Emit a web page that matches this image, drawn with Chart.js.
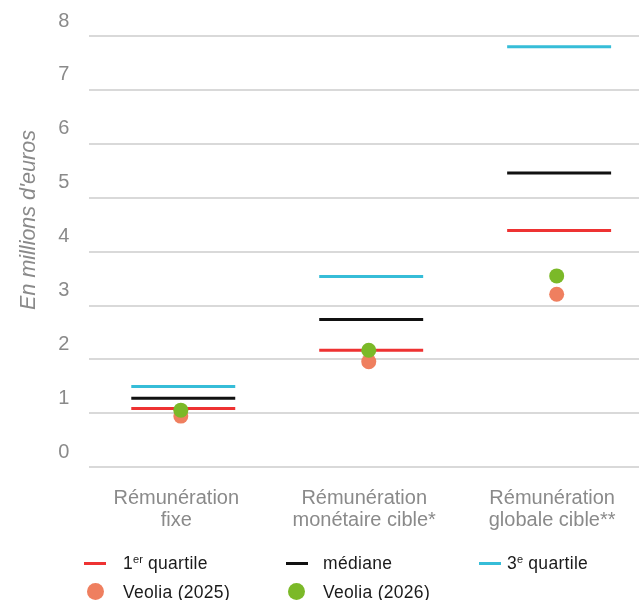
<!DOCTYPE html>
<html>
<head>
<meta charset="utf-8">
<script src="https://cdn.jsdelivr.net/npm/chart.js@4/dist/chart.umd.min.js"></script>
<style>
  html, body { margin: 0; padding: 0; background: #fff; }
  #wrap { position: relative; width: 643px; height: 600px; }
  #legend { position: absolute; left: 0; top: 0; width: 643px; height: 600px; pointer-events: none;
            font-family: "Liberation Sans", Arial, sans-serif; font-size: 17.5px; letter-spacing: 0.3px; color: #1a1a1a; }
  .lg-line { position: absolute; width: 22px; height: 3px; }
  .lg-dot { position: absolute; width: 17px; height: 17px; border-radius: 50%; }
  .lg-text { position: absolute; white-space: nowrap; line-height: 20px; }
  .lg-text sup { font-size: 11px; vertical-align: 0; position: relative; top: -6px; letter-spacing: 0; }
</style>
</head>
<body>
<div id="wrap">
  <canvas id="c" width="643" height="600"></canvas>
  <div id="legend"></div>
</div>
<script>
// ---- Data ----
const categories = [
  ["Rémunération", "fixe"],
  ["Rémunération", "monétaire cible*"],
  ["Rémunération", "globale cible**"]
];
const quartile1 = [1.09, 2.17, 4.39];
const mediane   = [1.28, 2.74, 5.46];
const quartile3 = [1.50, 3.54, 7.80];
const veolia2025 = [0.95, 1.96, 3.21];
const veolia2026 = [1.06, 2.17, 3.55];
const yTicks = [0, 1, 2, 3, 4, 5, 6, 7, 8];
const yTitle = "En millions d'euros";

// ---- Styles ----
const COL = { q1: '#ee3232', med: '#111111', q3: '#36bdd8', v25: '#ef7f5f', v26: '#7bb928' };
const FONT = '"Liberation Sans", Arial, sans-serif';
const HALF = 0.2766;   // half width of quartile segments (category units)
const DOT_SHIFT = -0.013;

function segments(vals) {
  const out = [];
  vals.forEach((v, i) => {
    out.push({ x: i - HALF, y: v }, { x: i + HALF, y: v }, { x: i + 0.5, y: null });
  });
  return out;
}
function dots(vals) { return vals.map((v, i) => ({ x: i + DOT_SHIFT, y: v })); }

const lineDs = (label, vals, color) => ({
  type: 'line', label, data: segments(vals), borderColor: color, backgroundColor: color,
  borderWidth: 3, pointRadius: 0, spanGaps: false, borderCapStyle: 'butt', order: 3, tension: 0
});

const titlePlugin = {
  id: 'ytitle',
  afterDraw(chart) {
    const ctx = chart.ctx;
    ctx.save();
    ctx.translate(29, 220);
    ctx.rotate(-Math.PI / 2);
    ctx.font = 'italic 21.5px ' + FONT;
    ctx.fillStyle = '#8a8a8a';
    ctx.textAlign = 'center';
    ctx.textBaseline = 'middle';
    ctx.fillText(yTitle, 0, 0);
    ctx.restore();
  }
};

new Chart(document.getElementById('c'), {
  type: 'scatter',
  data: {
    datasets: [
      { label: 'Veolia (2026)', data: dots(veolia2026), backgroundColor: COL.v26, borderColor: COL.v26,
        pointRadius: 7.5, pointHoverRadius: 7.5, borderWidth: 0, order: 0 },
      { label: 'Veolia (2025)', data: dots(veolia2025), backgroundColor: COL.v25, borderColor: COL.v25,
        pointRadius: 7.5, pointHoverRadius: 7.5, borderWidth: 0, order: 1 },
      lineDs('1er quartile', quartile1, COL.q1),
      lineDs('médiane', mediane, COL.med),
      lineDs('3e quartile', quartile3, COL.q3)
    ]
  },
  options: {
    responsive: false,
    animation: false,
    layout: { autoPadding: false, padding: { top: 36, right: 4, left: 0, bottom: 0 } },
    plugins: { legend: { display: false }, tooltip: { enabled: false } },
    scales: {
      x: {
        type: 'linear', min: -0.5, max: 2.425,
        grid: { display: false, drawTicks: false },
        border: { display: false },
        afterBuildTicks(scale) { scale.ticks = categories.map((c, i) => ({ value: i })); },
        afterFit(scale) { scale.height = 132.7; scale.paddingLeft = 0; scale.paddingRight = 0; },
        ticks: {
          autoSkip: false, maxRotation: 0, padding: 20, labelOffset: -7,
          color: '#8a8a8a', font: { family: FONT, size: 20, lineHeight: 1.12 },
          callback: (v) => categories[v]
        }
      },
      y: {
        min: 0, max: 8,
        grid: { color: '#d9d9d9', lineWidth: 2, drawTicks: false },
        border: { display: false },
        afterBuildTicks(scale) { scale.ticks = yTicks.map(v => ({ value: v })); },
        afterFit(scale) { scale.width = 89.3; scale.paddingTop = 0; scale.paddingBottom = 0; },
        ticks: {
          padding: 20, labelOffset: -15,
          color: '#8a8a8a', font: { family: FONT, size: 20 }
        }
      }
    }
  },
  plugins: [titlePlugin]
});

// ---- HTML legend ----
const legendItems = [
  { kind: 'line', color: COL.q1,  mx: 84,  tx: 123, cy: 563.3, html: '1<sup>er</sup> quartile' },
  { kind: 'line', color: COL.med, mx: 286, tx: 323, cy: 563.3, html: 'médiane' },
  { kind: 'line', color: COL.q3,  mx: 479, tx: 507, cy: 563.3, html: '3<sup>e</sup> quartile' },
  { kind: 'dot',  color: COL.v25, mx: 95,  tx: 123, cy: 591.7, html: 'Veolia (2025)' },
  { kind: 'dot',  color: COL.v26, mx: 296, tx: 323, cy: 591.7, html: 'Veolia (2026)' }
];
const lg = document.getElementById('legend');
legendItems.forEach(it => {
  const m = document.createElement('div');
  if (it.kind === 'line') {
    m.className = 'lg-line';
    m.style.left = it.mx + 'px';
    m.style.top = (it.cy - 1.5) + 'px';
  } else {
    m.className = 'lg-dot';
    m.style.left = (it.mx - 8.5) + 'px';
    m.style.top = (it.cy - 8.5) + 'px';
  }
  m.style.background = it.color;
  lg.appendChild(m);
  const t = document.createElement('div');
  t.className = 'lg-text';
  t.style.left = it.tx + 'px';
  t.style.top = (it.cy - 10) + 'px';
  t.innerHTML = it.html;
  lg.appendChild(t);
});
</script>
</body>
</html>
